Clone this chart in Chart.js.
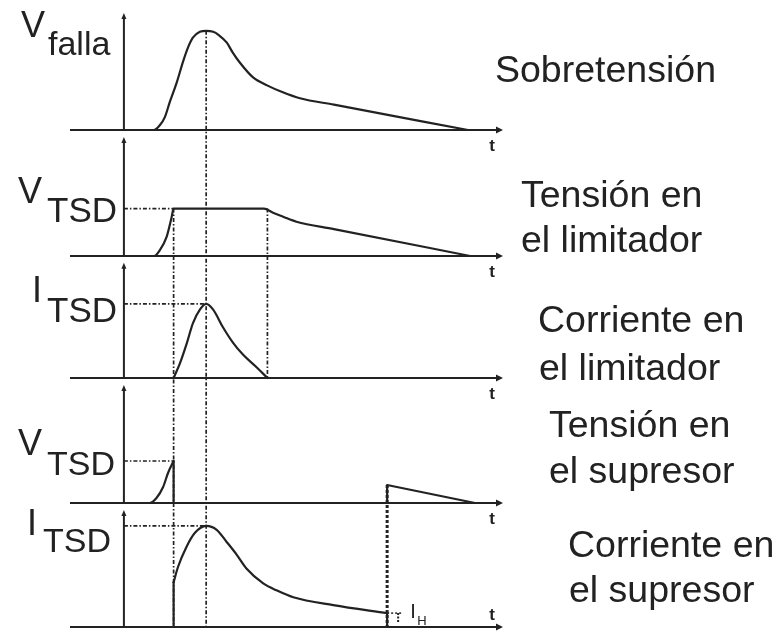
<!DOCTYPE html>
<html>
<head>
<meta charset="utf-8">
<script src="https://cdn.jsdelivr.net/npm/chart.js@4/dist/chart.umd.min.js"></script>
<style>
  html, body { margin: 0; padding: 0; background: #fff; }
  #wrap { position: relative; width: 783px; height: 631px; }
</style>
</head>
<body>
<div id="wrap"><canvas id="c"></canvas></div>
<script>
// ---- Key instants (arbitrary time units) ----
const T_CLAMP = 14.2;    // limiter clamps, suppressor fires
const T_PEAK = 23.5;     // surge peak
const T_RELEASE = 41;    // limiter stops conducting
const T_HOLD = 75.2;     // suppressor current falls to I_H

// ---- Levels (per unit) ----
const V_TSD_LIM = 0.47;
const I_TSD_LIM = 0.76;
const V_TSD_SUP = 0.42;
const I_TSD_SUP = 1.02;
const I_H = 0.14;

// ---- Panel 1: surge voltage ----
const surgeTime  = [0, 8.6, 10.3, 11.7, 13.1, 15.1, 16.9, 18.3, 19.7, 21.7, T_PEAK, 25.5, 27.0, 29.4, 31.1, 33.1, 36.9, 40.9, 45.4, 50.3, 60.0, 98.3];
const surgeVolts = [0, 0, 0.05, 0.13, 0.28, 0.48, 0.69, 0.83, 0.93, 0.99, 1.00, 0.99, 0.96, 0.88, 0.78, 0.68, 0.53, 0.45, 0.38, 0.32, 0.255, 0];

// ---- Panel 2: voltage across the limiter ----
const limVoltTime = [0, 8.6, 10.3, 12.2, 13.6, T_CLAMP, 40.0, 42.6, 45.5, 49.3, 60.0, 98.9];
const limVolts    = [0, 0, 0.06, 0.19, 0.38, V_TSD_LIM, V_TSD_LIM, 0.43, 0.39, 0.34, 0.267, 0];

// ---- Panel 3: current through the limiter ----
const limCurrTime = [T_CLAMP, 16.0, 18.0, 19.7, 21.7, T_PEAK, 25.5, 28.3, 31.2, 34.0, 37.9, T_RELEASE];
const limCurrent  = [0, 0.15, 0.36, 0.56, 0.70, I_TSD_LIM, 0.70, 0.52, 0.36, 0.24, 0.11, 0];

// ---- Panel 4: voltage across the suppressor ----
const supRiseTime  = [0, 7.4, 9.3, 11.2, 12.6, T_CLAMP];
const supRiseVolts = [0, 0, 0.05, 0.16, 0.30, V_TSD_SUP];
const supOffTime   = [T_CLAMP, T_CLAMP, T_HOLD, T_HOLD, 100.3];
const supOffVolts  = [V_TSD_SUP, 0, 0, 0.18, 0];

// ---- Panel 5: current through the suppressor ----
const supCurrTime = [T_CLAMP, 15.4, 17.9, 20.3, T_PEAK, 26.5, 29.3, 32.2, 35.0, 39.8, 43.6, 48.4, 59.8, T_HOLD];
const supCurrent  = [0.45, 0.60, 0.81, 0.95, I_TSD_SUP, 0.98, 0.86, 0.73, 0.59, 0.44, 0.37, 0.30, 0.22, I_H];
const supStepTime = [T_CLAMP, T_CLAMP];
const supStepCurr = [0, 0.45];
const supEndTime  = [T_HOLD, T_HOLD];
const supEndCurr  = [I_H, 0];

// ---- Axis ranges ----
const X_MIN = -15.4, X_MAX = 108.3;
const Y_MAX = 1.25, AXIS_TOP = 1.17;
const PANELS = ['y1', 'y2', 'y3', 'y4', 'y5'];
const PANEL_WEIGHTS = [124, 126, 122, 125, 124];

const INK = '#222222';
const FONT = '"Liberation Sans", Arial, Helvetica, sans-serif';

const pts = (ts, vs) => ts.map((t, i) => ({ x: t, y: vs[i] }));
function trace(axis, ts, vs, smooth) {
  return {
    yAxisID: axis,
    data: pts(ts, vs),
    borderColor: INK,
    borderWidth: 2.2,
    pointRadius: 0,
    fill: false,
    tension: smooth ? 0.4 : 0,
    cubicInterpolationMode: smooth ? 'monotone' : 'default',
    borderCapStyle: 'round',
    borderJoinStyle: 'round',
    clip: false
  };
}

const datasets = [
  trace('y1', surgeTime, surgeVolts, true),
  trace('y2', limVoltTime, limVolts, true),
  trace('y3', limCurrTime, limCurrent, true),
  trace('y4', supRiseTime, supRiseVolts, true),
  trace('y4', supOffTime, supOffVolts, false),
  trace('y5', supStepTime, supStepCurr, false),
  trace('y5', supCurrTime, supCurrent, true),
  trace('y5', supEndTime, supEndCurr, false)
];

const scales = { x: { type: 'linear', min: X_MIN, max: X_MAX, display: false } };
PANELS.forEach((id, i) => {
  scales[id] = {
    type: 'linear', min: 0, max: Y_MAX, display: false,
    position: 'left', stack: 'panels', stackWeight: PANEL_WEIGHTS[i], weight: PANELS.length - i
  };
});

// Left-hand quantity labels: [main, sub, x, baseline, subX, subBaseline, subSize]
const QUANTITY_LABELS = [
  ['V', 'falla', 21, 37, 48, 55, 34],
  ['V', 'TSD', 18, 203, 47, 222, 35],
  ['I', 'TSD', 32, 302, 47, 322, 35],
  ['V', 'TSD', 18, 455, 47, 475, 34],
  ['I', 'TSD', 27, 535, 43, 552, 34]
];
// Right-hand panel titles: [text, x, baseline]
const PANEL_TITLES = [
  ['Sobretensión', 495, 82],
  ['Tensión en', 521, 207], ['el limitador', 521, 252],
  ['Corriente en', 538, 332], ['el limitador', 539, 380],
  ['Tensión en', 549, 437], ['el supresor', 549, 483],
  ['Corriente en', 568, 557], ['el supresor', 569, 602]
];

function line(ctx, x1, y1, x2, y2, width, dash) {
  ctx.lineWidth = width;
  ctx.setLineDash(dash || []);
  ctx.beginPath();
  ctx.moveTo(x1, y1);
  ctx.lineTo(x2, y2);
  ctx.stroke();
}

const DASH_DOT = [4, 2, 1.5, 2];
const GUIDE_W = 1.7;

const diagram = {
  id: 'diagram',
  beforeDatasetsDraw(chart) {
    const { ctx, chartArea: a, scales: s } = chart;
    const X = v => s.x.getPixelForValue(v);
    const Y = (id, v) => s[id].getPixelForValue(v);
    ctx.save();
    ctx.strokeStyle = INK;
    ctx.fillStyle = INK;
    ctx.lineCap = 'butt';

    // Axes for each panel
    PANELS.forEach((id, i) => {
      const y0 = Y(id, 0), x0 = X(0), yTop = Y(id, AXIS_TOP);
      line(ctx, a.left, y0, a.right - 5, y0, 2);
      ctx.beginPath();
      ctx.moveTo(a.right, y0);
      ctx.lineTo(a.right - 7, y0 - 3.5);
      ctx.lineTo(a.right - 7, y0 + 3.5);
      ctx.closePath();
      ctx.fill();
      line(ctx, x0, y0, x0, yTop + 4, 2);
      ctx.beginPath();
      ctx.moveTo(x0, yTop - 1);
      ctx.lineTo(x0 - 2.5, yTop + 5);
      ctx.lineTo(x0 + 2.5, yTop + 5);
      ctx.closePath();
      ctx.fill();
      // time label
      ctx.font = 'bold 17px ' + FONT;
      ctx.textAlign = 'center';
      ctx.textBaseline = 'alphabetic';
      const last = i === PANELS.length - 1;
      ctx.fillText('t', a.right - 11, last ? y0 - 7 : y0 + 21);
    });

    // Vertical guides
    line(ctx, X(T_PEAK), Y('y1', 1.0), X(T_PEAK), Y('y5', 0), GUIDE_W, DASH_DOT);
    line(ctx, X(T_CLAMP), Y('y2', V_TSD_LIM), X(T_CLAMP), Y('y5', 0), GUIDE_W, DASH_DOT);
    line(ctx, X(T_RELEASE), Y('y2', V_TSD_LIM), X(T_RELEASE), Y('y3', 0), GUIDE_W, DASH_DOT);
    line(ctx, X(T_HOLD), Y('y4', 0.18), X(T_HOLD), Y('y5', 0), 3, [3, 2]);

    // Horizontal level guides
    line(ctx, X(0), Y('y2', V_TSD_LIM), X(T_CLAMP), Y('y2', V_TSD_LIM), GUIDE_W, DASH_DOT);
    line(ctx, X(0), Y('y3', I_TSD_LIM), X(T_PEAK), Y('y3', I_TSD_LIM), GUIDE_W, DASH_DOT);
    line(ctx, X(0), Y('y4', V_TSD_SUP), X(T_CLAMP), Y('y4', V_TSD_SUP), GUIDE_W, DASH_DOT);
    line(ctx, X(0), Y('y5', I_TSD_SUP), X(T_PEAK), Y('y5', I_TSD_SUP), GUIDE_W, DASH_DOT);

    // Holding-current marker
    const hx = X(T_HOLD), hy = Y('y5', I_H);
    line(ctx, hx, hy, hx + 15, hy, 1.5, [2, 2]);
    line(ctx, hx + 11, hy, hx + 11, hy + 9, 2, [2, 1.5]);
    ctx.restore();
  },
  afterDraw(chart) {
    const { ctx, scales: s } = chart;
    ctx.save();
    ctx.fillStyle = INK;
    ctx.textAlign = 'left';
    ctx.textBaseline = 'alphabetic';
    QUANTITY_LABELS.forEach(([main, sub, x, y, sx, sy, size]) => {
      ctx.font = '36px ' + FONT;
      ctx.fillText(main, x, y);
      ctx.font = size + 'px ' + FONT;
      ctx.fillText(sub, sx, sy);
    });
    ctx.font = '37.5px ' + FONT;
    PANEL_TITLES.forEach(([txt, x, y]) => ctx.fillText(txt, x, y));

    // I_H label next to its marker
    const hx = s.x.getPixelForValue(T_HOLD), hy = s.y5.getPixelForValue(I_H);
    ctx.font = '20px ' + FONT;
    ctx.fillText('I', hx + 23, hy + 5);
    ctx.font = '13px ' + FONT;
    ctx.fillText('H', hx + 30, hy + 12);
    ctx.restore();
  }
};

new Chart(document.getElementById('c'), {
  type: 'line',
  data: { datasets },
  options: {
    responsive: true,
    maintainAspectRatio: false,
    animation: false,
    events: [],
    layout: { padding: { left: 70, right: 280, top: 6, bottom: 4 } },
    plugins: { legend: { display: false }, tooltip: { enabled: false } },
    scales
  },
  plugins: [diagram]
});
</script>
</body>
</html>
